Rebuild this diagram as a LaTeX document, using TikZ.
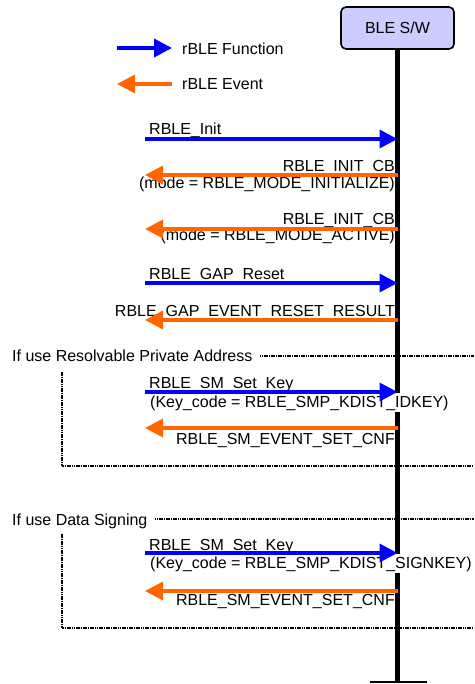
\documentclass[tikz,border=0pt]{standalone}
\usepackage{fontspec}
\setmainfont{Liberation Sans}
\usetikzlibrary{arrows.meta}
\definecolor{funcblue}{RGB}{0,0,255}
\definecolor{evtorange}{RGB}{255,102,0}
\definecolor{boxfill}{RGB}{204,204,255}
\begin{document}
\begin{tikzpicture}[x=1pt,y=-1pt,
  font=\fontsize{16}{18}\selectfont,
  every node/.style={inner sep=0pt},
  func/.style={draw=funcblue,line width=3.5pt,-{Triangle[length=18pt,width=18pt]},fill=funcblue},
  evt/.style={draw=evtorange,line width=3.5pt,-{Triangle[length=18pt,width=18pt]},fill=evtorange},
  lbl/.style={anchor=base west},
  rlbl/.style={anchor=base east},
  masklbl/.style={fill=white,inner ysep=2pt,inner xsep=1pt},
  guard/.style={line width=2pt,draw=black,dash pattern=on 1.6pt off 0.7pt},
  lifeline/.style={line width=4.5pt}]
\useasboundingbox (0,0) rectangle (474,684);

% participant and its lifeline
\node[draw,line width=1.6pt,rounded corners=5pt,fill=boxfill,minimum width=113pt,minimum height=42pt] (ble) at (397.5,28) {BLE S/W};
\coordinate (lifeEnd) at (397.5,682);
\coordinate (barL) at (370,682);
\coordinate (barR) at (427,682);
\draw[lifeline] (ble.south) -- (lifeEnd);
\draw[line width=2.5pt] (barL) -- (barR);

% legend
\coordinate (lf1) at (117,48);  \coordinate (lf2) at (172,48);
\coordinate (le1) at (172,84);  \coordinate (le2) at (117,84);
\draw[func] (lf1) -- (lf2);
\draw[evt] (le1) -- (le2);
\node[lbl] (legF) at (182,55) {rBLE Function};
\node[lbl] (legE) at (182,90) {rBLE Event};

% guard frames
\node[lbl] (g1) at (12,361) {If use Resolvable Private Address};
\coordinate (g1s) at ([xshift=7pt]g1.east);
\coordinate (g1r) at (474,356);
\coordinate (g1top) at (62,372);
\coordinate (g1bot) at (62,466);
\coordinate (g1end) at (474,466);
\draw[guard] (g1s |- g1r) -- (g1r);
\draw[guard] (g1top) -- (g1bot) -- (g1end);

\node[lbl] (g2) at (12,525) {If use Data Signing};
\coordinate (g2s) at ([xshift=7pt]g2.east);
\coordinate (g2r) at (474,519);
\coordinate (g2top) at (62,534);
\coordinate (g2bot) at (62,628);
\coordinate (g2end) at (474,628);
\draw[guard] (g2s |- g2r) -- (g2r);
\draw[guard] (g2top) -- (g2bot) -- (g2end);
\coordinate (lifeMid) at (397.5,340);
\draw[lifeline] (lifeMid) -- (lifeEnd);

% message end points on the caller side
\coordinate (m1) at (145,139);
\coordinate (m2) at (145,175);
\coordinate (m3) at (145,229);
\coordinate (m4) at (145,283);
\coordinate (m5) at (145,320);
\coordinate (m6) at (145,392);
\coordinate (m7) at (145,428);
\coordinate (m8) at (145,553);
\coordinate (m9) at (145,591);

% message labels
\node[lbl] (t1) at (149,135) {RBLE\_Init};
\node[rlbl] (t2a) at (395,172) {RBLE\_INIT\_CB};
\node[rlbl] (t2b) at (395,189) {(mode = RBLE\_MODE\_INITIALIZE)};
\node[rlbl] (t3a) at (395,225) {RBLE\_INIT\_CB};
\node[rlbl] (t3b) at (395,241) {(mode = RBLE\_MODE\_ACTIVE)};
\node[lbl] (t4) at (149,279) {RBLE\_GAP\_Reset};
\node[rlbl] (t5) at (395,316) {RBLE\_GAP\_EVENT\_RESET\_RESULT};
\node[lbl] (t6a) at (149,388) {RBLE\_SM\_Set\_Key};
\node[lbl,masklbl] (t6b) at (149,407) {(Key\_code = RBLE\_SMP\_KDIST\_IDKEY)};
\node[rlbl] (t7) at (395,444) {RBLE\_SM\_EVENT\_SET\_CNF};
\node[lbl] (t8a) at (149,550) {RBLE\_SM\_Set\_Key};
\node[lbl,masklbl] (t8b) at (149,568) {(Key\_code = RBLE\_SMP\_KDIST\_SIGNKEY)};
\node[rlbl] (t9) at (395,605) {RBLE\_SM\_EVENT\_SET\_CNF};

% messages
\draw[func] (m1) -- (m1 -| ble.center);
\draw[evt] (m2 -| ble.center) -- (m2);
\draw[evt] (m3 -| ble.center) -- (m3);
\draw[func] (m4) -- (m4 -| ble.center);
\draw[evt] (m5 -| ble.center) -- (m5);
\draw[func] (m6) -- (m6 -| ble.center);
\draw[evt] (m7 -| ble.center) -- (m7);
\draw[func] (m8) -- (m8 -| ble.center);
\draw[evt] (m9 -| ble.center) -- (m9);
\end{tikzpicture}
\end{document}
